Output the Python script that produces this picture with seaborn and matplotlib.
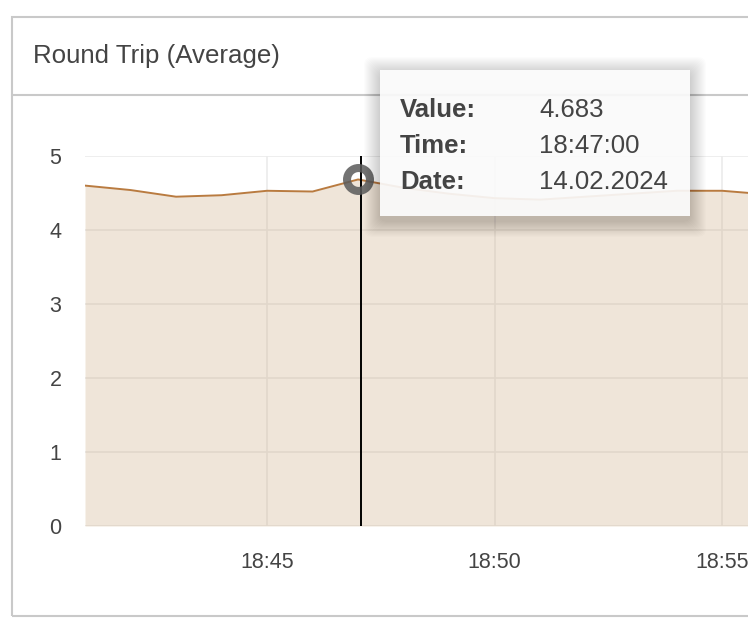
import matplotlib
matplotlib.use("Agg")
import matplotlib.pyplot as plt
import matplotlib.dates as mdates
from matplotlib.patches import Rectangle, FancyBboxPatch
from matplotlib.lines import Line2D
import pandas as pd
import seaborn as sns

# ---- data ----
date_str = "2024-02-14"
times = ["18:41", "18:42", "18:43", "18:44", "18:45", "18:46", "18:47", "18:48",
         "18:49", "18:50", "18:51", "18:52", "18:53", "18:54", "18:55", "18:56"]
values = [4.60, 4.54, 4.45, 4.47, 4.53, 4.52, 4.683, 4.57,
          4.49, 4.43, 4.41, 4.45, 4.49, 4.53, 4.53, 4.48]
hover_index = 6
cursor_time = "18:47:04"
y_ticks = [0, 1, 2, 3, 4, 5]
title = "Round Trip (Average)"
tooltip_labels = ["Value:", "Time:", "Date:"]
tooltip_values = ["4.683", "18:47:00", "14.02.2024"]

df = pd.DataFrame({"time": pd.to_datetime([f"{date_str} {t}" for t in times]),
                   "value": values})

sns.set_style("white")
plt.rcParams["font.family"] = ["Liberation Sans", "DejaVu Sans"]

W, H = 748, 630
fig = plt.figure(figsize=(W / 100, H / 100), dpi=100)

def fx(x):
    return x / W

def fy(y):
    return 1 - y / H

# panel frame
border = "#c9c9c9"
fig.add_artist(Rectangle((fx(12), fy(616)), fx(760) - fx(12), fy(17) - fy(616),
                         transform=fig.transFigure, facecolor="none",
                         edgecolor=border, lw=1.5, zorder=0))
fig.add_artist(Line2D([fx(12), 1.0], [fy(95), fy(95)], transform=fig.transFigure,
                      color=border, lw=1.5, zorder=0))
fig.text(fx(33), fy(56), title, fontsize=18.6, color="#444444",
         ha="left", va="center")

# plot area
ax = fig.add_axes([fx(85), fy(526), 1 - fx(85), fy(156) - fy(526)])
ax.set_zorder(1)
line_color = "#b97b40"
sns.lineplot(data=df, x="time", y="value", ax=ax, color=line_color, lw=1.4, zorder=3)
ax.fill_between(df["time"], df["value"], 0, color=(0.80, 0.667, 0.51), alpha=0.3,
                lw=0, zorder=2)

ax.set_ylim(0, 5)
ax.set_yticks(y_ticks)
ax.set_xlim(pd.Timestamp(f"{date_str} 18:41:00"), pd.Timestamp(f"{date_str} 18:55:34"))
ax.xaxis.set_major_locator(mdates.MinuteLocator(byminute=[45, 50, 55]))
ax.xaxis.set_major_formatter(mdates.DateFormatter("%H:%M"))
ax.set_xlabel("")
ax.set_ylabel("")
ax.set_axisbelow(True)
ax.grid(True, color="#ebebeb", lw=1.2)
for s in ax.spines.values():
    s.set_visible(False)
ax.tick_params(axis="both", length=0, labelsize=15.5, labelcolor="#444444")
ax.tick_params(axis="y", pad=17)
ax.tick_params(axis="x", pad=19)

# hover cursor + marker
ht = df["time"].iloc[hover_index]
hv = df["value"].iloc[hover_index]
ax.axvline(pd.Timestamp(f"{date_str} {cursor_time}"), color="black", lw=1.4, zorder=5)
ax.plot([ht], [hv], marker="o", markersize=16.5, markerfacecolor="none",
        markeredgecolor="#5a5a5a", markeredgewidth=5.8, alpha=0.85, zorder=6,
        clip_on=False)

# tooltip
bx0, by0, bx1, by1 = 380, 70, 690, 216
for i in range(16):
    g = i + 1
    fig.add_artist(FancyBboxPatch((fx(bx0 - g), fy(by1 + 5 + g)),
                                  fx(bx1 + g) - fx(bx0 - g),
                                  fy(by0 + 3 - g) - fy(by1 + 5 + g),
                                  boxstyle="round,pad=0,rounding_size=0.012",
                                  transform=fig.transFigure, facecolor="black",
                                  edgecolor="none", alpha=0.013, zorder=8))
fig.add_artist(Rectangle((fx(bx0), fy(by1)), fx(bx1) - fx(bx0), fy(by0) - fy(by1),
                         transform=fig.transFigure, facecolor="white",
                         edgecolor="none", alpha=0.9, zorder=9))
rows_y = [107.5, 143.5, 179.5]
for lab, val, yy in zip(tooltip_labels, tooltip_values, rows_y):
    fig.text(fx(400), fy(yy), lab, fontsize=18.5, fontweight="bold",
             color="#444444", ha="left", va="center_baseline", zorder=10)
    fig.text(fx(539), fy(yy), val, fontsize=18.5, color="#444444",
             ha="left", va="center_baseline", zorder=10)

fig.savefig("out.png", dpi=100)
